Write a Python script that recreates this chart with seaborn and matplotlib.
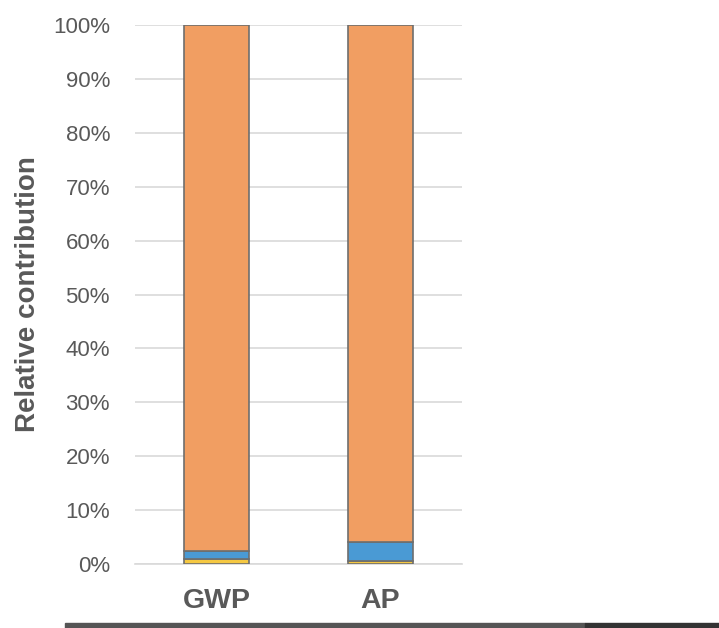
import matplotlib
matplotlib.use("Agg")
import matplotlib.pyplot as plt
from matplotlib.patches import Rectangle
import seaborn as sns
import numpy as np
import pandas as pd

# Impact categories and contribution shares (%) of each stacked segment
categories = ["GWP", "AP"]
share_yellow = [1.0, 0.6]
share_blue = [1.4, 3.4]
share_orange = [97.6, 96.0]

layers = [
    ("yellow", share_yellow, "#F5C842"),
    ("blue", share_blue, "#4A9AD4"),
    ("orange", share_orange, "#F19E62"),
]

sns.set_theme(style="white")
plt.rcParams["font.family"] = ["Liberation Sans", "DejaVu Sans"]

fig = plt.figure(figsize=(7.19, 6.28), dpi=100)
ax = fig.add_axes([0.1878, 0.1019, 0.4548, 0.8583])

bottom = np.zeros(len(categories))
for name, vals, color in layers:
    frac = np.array(vals) / 100.0
    df = pd.DataFrame({"cat": categories, "val": frac})
    sns.barplot(data=df, x="cat", y="val", ax=ax, color=color, width=0.4,
                bottom=bottom, edgecolor="#6E6E6E", linewidth=1.2,
                saturation=1, errorbar=None, zorder=3)
    bottom += frac

ax.set_ylim(0, 1)
ax.set_xlim(-0.5, 1.5)
ax.set_yticks(np.arange(0, 1.01, 0.1))
ax.set_yticklabels([f"{int(round(v * 100))}%" for v in np.arange(0, 1.01, 0.1)])
ax.yaxis.grid(True, color="#D9D9D9", linewidth=1.2, zorder=0)
ax.xaxis.grid(False)
for s in ["top", "right", "left"]:
    ax.spines[s].set_visible(False)
ax.spines["bottom"].set_color("#D9D9D9")
ax.spines["bottom"].set_linewidth(1.2)

ax.tick_params(axis="y", length=0, pad=18, labelsize=16, labelcolor="#595959")
ax.tick_params(axis="x", length=0, pad=17, labelsize=20.5, labelcolor="#595959")
for lbl in ax.get_xticklabels():
    lbl.set_fontweight("bold")
ax.set_xlabel("")
ax.set_ylabel("Relative contribution", fontsize=20, fontweight="bold",
              color="#595959", labelpad=9)

# dark strip along the lower edge
fig.patches.append(Rectangle((65 / 719, 0), (585 - 65) / 719, 5 / 628,
                             transform=fig.transFigure, color="#555555", zorder=5))
fig.patches.append(Rectangle((585 / 719, 0), (719 - 585) / 719, 5 / 628,
                             transform=fig.transFigure, color="#333333", zorder=5))

fig.savefig("out.png", dpi=100)
